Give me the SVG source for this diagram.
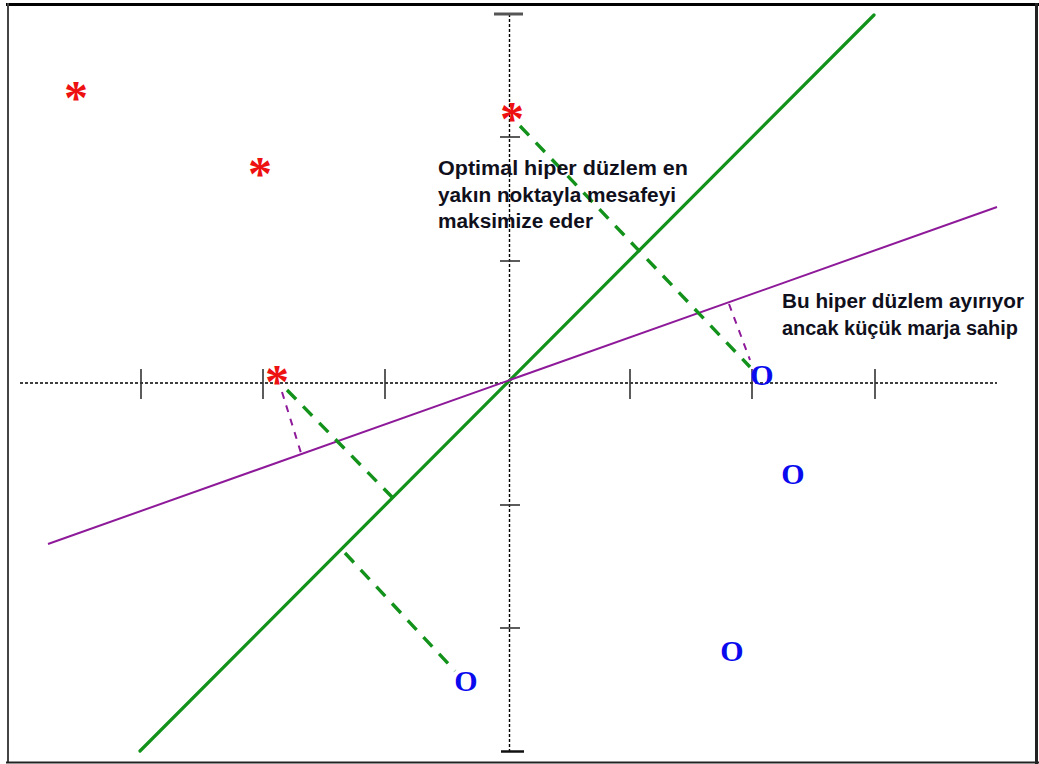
<svg xmlns="http://www.w3.org/2000/svg" width="1039" height="764" viewBox="0 0 1039 764">
<style>
.axis{stroke:#000;stroke-width:1.4;stroke-dasharray:3,2;fill:none}
.tick{stroke:#333;stroke-width:1.6}
.cap{stroke:#555;stroke-width:3}
.green{stroke:#12921a;stroke-width:3.2;fill:none;stroke-linecap:round}
.gdash{stroke:#12921a;stroke-width:3.4;fill:none;stroke-dasharray:13,10}
.purple{stroke:#8e1a9a;stroke-width:2;fill:none}
.pdash{stroke:#8e1a9a;stroke-width:2;fill:none;stroke-dasharray:7,7}
.star{font-family:"Liberation Serif",serif;font-weight:bold;font-size:48px;fill:#ee1111;text-anchor:middle}
.o{font-family:"Liberation Serif",serif;font-weight:bold;font-size:30px;fill:#0a0aee;text-anchor:middle}
.lbl{font-family:"Liberation Sans",Arial,sans-serif;font-weight:bold;font-size:20px;fill:#10101c}
</style>
<rect width="1039" height="764" fill="#fff"/>
<g id="frame">
<line x1="6" y1="4.5" x2="1039" y2="4.5" stroke="#000" stroke-width="3"/>
<line x1="8" y1="3" x2="8" y2="762" stroke="#444" stroke-width="2"/>
<line x1="1036.5" y1="3" x2="1036.5" y2="764" stroke="#222" stroke-width="3"/>
<line x1="6" y1="762.5" x2="1039" y2="762.5" stroke="#222" stroke-width="2"/>
</g>
<g id="axes">
<line class="axis" x1="20" y1="383" x2="997" y2="383"/>
<line class="axis" x1="509.5" y1="14" x2="509.5" y2="751"/>
<line class="tick" x1="141" y1="369" x2="141" y2="399"/>
<line class="tick" x1="263" y1="369" x2="263" y2="399"/>
<line class="tick" x1="385" y1="369" x2="385" y2="399"/>
<line class="tick" x1="630" y1="369" x2="630" y2="399"/>
<line class="tick" x1="752" y1="369" x2="752" y2="399"/>
<line class="tick" x1="875" y1="369" x2="875" y2="399"/>
<line class="tick" x1="500" y1="137" x2="520" y2="137"/>
<line class="tick" x1="500" y1="261" x2="520" y2="261"/>
<line class="tick" x1="500" y1="505" x2="520" y2="505"/>
<line class="tick" x1="500" y1="628" x2="520" y2="628"/>
<line class="cap" x1="494" y1="14" x2="523" y2="14"/>
<line x1="501" y1="751.5" x2="524" y2="751.5" stroke="#111" stroke-width="2.5"/>
</g>
<g id="connectors">
<line class="green" x1="140" y1="751" x2="874" y2="15"/>
<line class="purple" x1="48" y1="544" x2="997" y2="207"/>
<line class="gdash" x1="520" y1="126" x2="750" y2="367"/>
<line class="gdash" x1="287" y1="390" x2="392" y2="497"/>
<line class="gdash" x1="345" y1="553" x2="455" y2="671"/>
<line class="pdash" x1="282" y1="392" x2="301" y2="453"/>
<line class="pdash" x1="729" y1="304" x2="750" y2="360"/>
</g>
<g id="stars">
<text class="star" x="76" y="114">*</text>
<text class="star" x="260" y="190">*</text>
<text class="star" x="512" y="135">*</text>
<text class="star" x="277" y="398">*</text>
</g>
<g id="circles">
<text class="o" x="762" y="385">O</text>
<text class="o" x="793" y="484">O</text>
<text class="o" x="732" y="661">O</text>
<text class="o" x="466" y="691">O</text>
</g>
<g id="label-optimal">
<text class="lbl" x="438" y="175" textLength="250" lengthAdjust="spacingAndGlyphs">Optimal hiper düzlem en</text>
<text class="lbl" x="438" y="202" textLength="238" lengthAdjust="spacingAndGlyphs">yakın noktayla mesafeyi</text>
<text class="lbl" x="438" y="228" textLength="155" lengthAdjust="spacingAndGlyphs">maksimize eder</text>
</g>
<g id="label-small">
<text class="lbl" x="782" y="308" textLength="242" lengthAdjust="spacingAndGlyphs">Bu hiper düzlem ayırıyor</text>
<text class="lbl" x="782" y="335" textLength="236" lengthAdjust="spacingAndGlyphs">ancak küçük marja sahip</text>
</g>
</svg>
